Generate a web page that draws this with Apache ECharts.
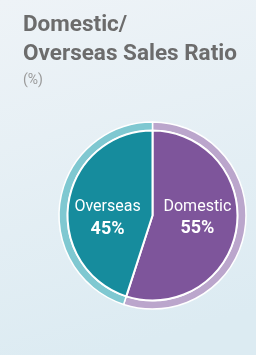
<!DOCTYPE html>
<html>
<head>
<meta charset="utf-8">
<script src="https://cdn.jsdelivr.net/npm/echarts@6/dist/echarts.min.js"></script>
<style>
html, body { margin: 0; padding: 0; }
#chart { width: 256px; height: 355px; }
</style>
</head>
<body>
<div id="chart"></div>
<script>
// 国内/海外 売上比率
var names = ['Domestic', 'Overseas'];
var values = [55, 45];
var darkColors = ['#7e559b', '#168c9d'];
var lightColors = ['#bba6cc', '#7fc8d1'];

var chart = echarts.init(document.getElementById('chart'));
var font = 'Roboto, sans-serif';

var innerData = [];
var outerData = [];
for (var i = 0; i < names.length; i++) {
    innerData.push({
        name: names[i],
        value: values[i],
        itemStyle: {color: darkColors[i]},
        label: {padding: i == 1 ? [20, 0, 0, 0] : [0, 0, 10, 0]}
    });
    outerData.push({
        name: names[i],
        value: values[i],
        itemStyle: {color: lightColors[i]}
    });
}

var option = {
    backgroundColor: new echarts.graphic.LinearGradient(0, 0, 0.4, 1, [
        {offset: 0, color: '#eef3f7'},
        {offset: 1, color: '#dcebf2'}
    ]),
    title: {
        text: 'Domestic/\nOverseas Sales Ratio',
        subtext: '(%)',
        left: 18,
        top: 6,
        itemGap: 4,
        textStyle: {
            color: '#6c6c6c',
            fontFamily: font,
            fontSize: 22.5,
            fontWeight: 'bold',
            lineHeight: 29
        },
        subtextStyle: {
            color: '#9a9a9a',
            fontFamily: font,
            fontSize: 14
        }
    },
    series: [{
        type: 'pie',
        center: [152.5, 215.5],
        radius: [85, 93.5],
        startAngle: 90,
        clockwise: true,
        silent: true,
        label: {show: false},
        labelLine: {show: false},
        itemStyle: {borderColor: '#ffffff', borderWidth: 1.5},
        data: outerData
    }, {
        type: 'pie',
        center: [152.5, 215.5],
        radius: [0, 85],
        startAngle: 90,
        clockwise: true,
        silent: true,
        itemStyle: {borderColor: '#ffffff', borderWidth: 2},
        labelLine: {show: false},
        label: {
            show: true,
            position: 'inside',
            formatter: function (p) {
                return '{n|' + p.name + '}\n{v|' + p.value + '%}';
            },
            rich: {
                n: {color: '#ffffff', fontFamily: font, fontSize: 16, lineHeight: 22},
                v: {color: '#ffffff', fontFamily: font, fontSize: 18, fontWeight: 'bold', lineHeight: 22}
            }
        },
        data: innerData
    }]
};

chart.setOption(option);
</script>
</body>
</html>
